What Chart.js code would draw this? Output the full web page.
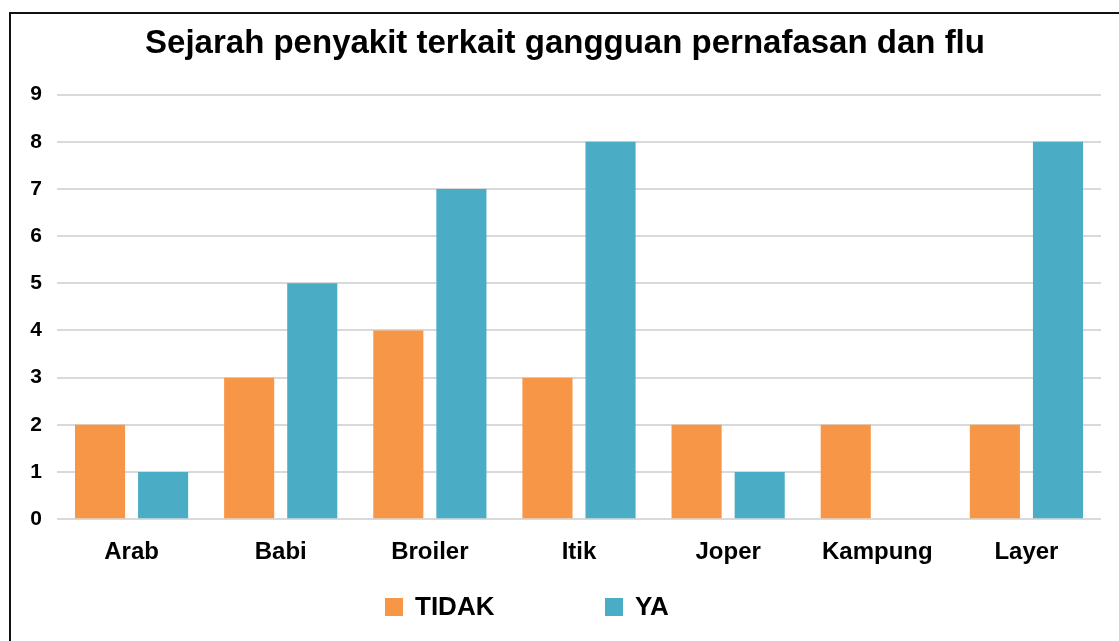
<!DOCTYPE html>
<html lang="id">
  <head>
    <meta charset="UTF-8" />
    <title>Sejarah penyakit</title>
    <style>
      body {
        margin: 0;
        background: #fff;
        overflow: hidden;
      }
      .kotak {
        position: absolute;
        left: 9px;
        top: 12px;
        width: 1112px;
        height: 640px;
        border: 2px solid #111;
      }
    </style>
  </head>
  <body>
    <div class="kotak">
      <canvas id="myChart" width="1112" height="640"></canvas>
    </div>

    <script src="https://cdn.jsdelivr.net/npm/chart.js"></script>
    <script>
      const kategori = ["Arab", "Babi", "Broiler", "Itik", "Joper", "Kampung", "Layer"];
      const tidak = [2, 3, 4, 3, 2, 2, 2];
      const ya = [1, 5, 7, 8, 1, 0, 8];
      const judul = "Sejarah penyakit terkait gangguan pernafasan dan flu";

      const fontDasar = "'Liberation Sans', Arial, sans-serif";

      // legenda digambar sendiri supaya jarak antar item mirip aslinya
      const legendaBawah = {
        id: "legendaBawah",
        afterDraw(chart) {
          const ctx = chart.ctx;
          const y = 593;
          const posisi = [374, 594];
          ctx.save();
          ctx.font = "bold 26px " + fontDasar;
          ctx.textBaseline = "middle";
          ctx.textAlign = "left";
          chart.data.datasets.forEach((ds, i) => {
            ctx.fillStyle = ds.backgroundColor;
            ctx.fillRect(posisi[i], y - 9, 18, 18);
            ctx.fillStyle = "#000";
            ctx.fillText(ds.label, posisi[i] + 30, y + 1);
          });
          ctx.restore();
        },
      };

      const config = {
        type: "bar",
        data: {
          labels: kategori,
          datasets: [
            {
              label: "TIDAK",
              data: tidak,
              backgroundColor: "#F79646",
              categoryPercentage: 0.846,
              barPercentage: 0.794,
            },
            {
              label: "YA",
              data: ya,
              backgroundColor: "#4BACC6",
              categoryPercentage: 0.846,
              barPercentage: 0.794,
            },
          ],
        },
        options: {
          responsive: false,
          animation: false,
          layout: {
            padding: { left: 18, right: 22, top: 0, bottom: 68 },
          },
          plugins: {
            legend: { display: false },
            tooltip: { enabled: false },
            title: {
              display: true,
              text: judul,
              color: "#000",
              font: { family: fontDasar, size: 33, weight: "bold" },
              padding: { top: 10, bottom: 31 },
            },
          },
          scales: {
            x: {
              grid: { display: false, drawTicks: false },
              border: { display: false },
              ticks: {
                color: "#000",
                padding: 19,
                font: { family: fontDasar, size: 24, weight: "bold" },
              },
            },
            y: {
              min: 0,
              max: 9,
              grid: { color: "#D9D9D9", lineWidth: 2, drawTicks: false },
              border: { display: false },
              ticks: {
                stepSize: 1,
                color: "#000",
                padding: 15,
                font: { family: fontDasar, size: 21, weight: "bold" },
              },
              afterFit(scale) {
                scale.width = 28;
              },
            },
          },
        },
        plugins: [legendaBawah],
      };

      new Chart(document.getElementById("myChart"), config);
    </script>
  </body>
</html>
